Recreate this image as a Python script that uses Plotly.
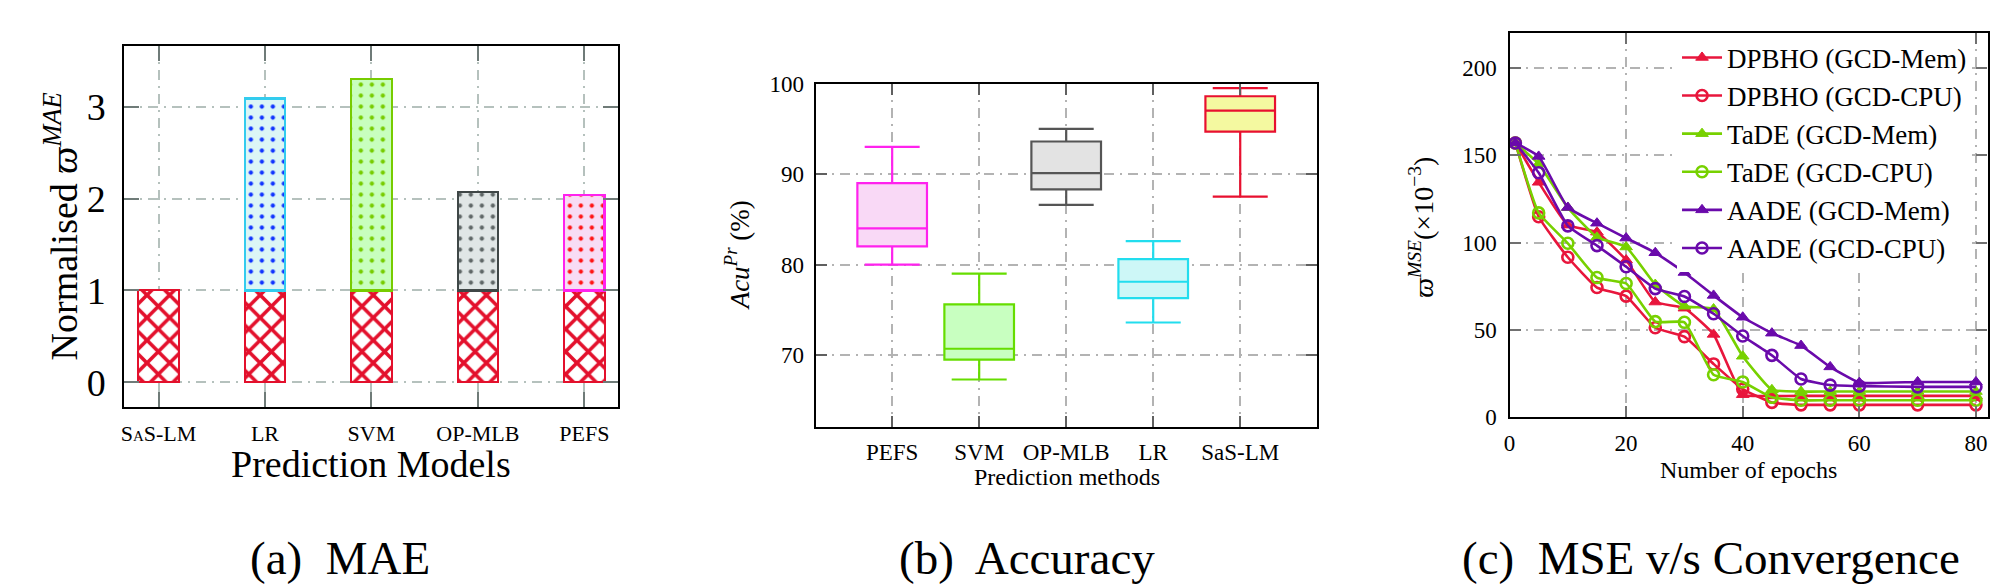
import plotly.graph_objects as go

W, H = 2011, 587
FONT = "Liberation Serif"

# ---------------- (a) MAE data ----------------
mae_models = ["SaS-LM", "LR", "SVM", "OP-MLB", "PEFS"]
mae_base = [1.0, 1.0, 1.0, 1.0, 1.0]
mae_total = [1.0, 3.09, 3.30, 2.07, 2.04]
mae_top_line = ["#e3102c", "#33ccee", "#77cc00", "#3f4747", "#ff22ee"]
mae_top_bg = ["#ffffff", "#dcf6f6", "#c8ffbe", "#e0e6e6", "#f8dcf5"]
mae_top_dot = ["#e3102c", "#1034ff", "#77cc00", "#5f6767", "#ff1414"]

# ---------------- (b) Accuracy data ----------------
acc_methods = ["PEFS", "SVM", "OP-MLB", "LR", "SaS-LM"]
acc_min = [80.0, 67.3, 86.6, 73.6, 87.5]
acc_q1 = [82.0, 69.5, 88.3, 76.3, 94.7]
acc_med = [84.0, 70.7, 90.1, 78.1, 97.0]
acc_q3 = [89.0, 75.6, 93.6, 80.6, 98.6]
acc_max = [93.0, 79.0, 95.0, 82.6, 99.5]
acc_line = ["#ff22ee", "#66dd00", "#555555", "#22ddee", "#e8102f"]
acc_fill = ["#f9d9f6", "#c8ffc0", "#e3e3e3", "#cdf7f7", "#f4f9a0"]

# ---------------- (c) MSE convergence data ----------------
epochs = [1, 5, 10, 15, 20, 25, 30, 35, 40, 45, 50, 55, 60, 70, 80]
dpbho_mem = [157, 134.5, 110, 106, 90, 66, 62.5, 47.5, 13, 12.3, 12.3, 12.3, 12.3, 12.3, 12.3]
dpbho_cpu = [157, 114.8, 91.6, 74.3, 69.4, 51.3, 46.2, 30.6, 16.2, 8.6, 7.2, 7.2, 7.2, 7.2, 7.2]
tade_mem = [157, 145, 120, 103, 97.5, 76, 63.6, 62, 35, 15.8, 14.8, 14.8, 14.8, 14.8, 14.8]
tade_cpu = [157, 117, 99.6, 80, 76.6, 54.8, 54.4, 24.4, 20.3, 11.5, 9.8, 9.8, 9.8, 9.8, 9.8]
aade_mem = [157, 149.3, 120.1, 111.1, 102.6, 94.2, 82.9, 69.8, 57.3, 48.2, 41.1, 28.9, 19.9, 20.3, 20.3]
aade_cpu = [157, 140, 109.6, 98.3, 86.2, 73.7, 69.2, 59.3, 46.6, 35.5, 22, 18.5, 17.9, 17.5, 17.5]
series = [
    ("DPBHO (GCD-Mem)", dpbho_mem, "#e8163c", "triangle-up"),
    ("DPBHO (GCD-CPU)", dpbho_cpu, "#e8163c", "circle-open"),
    ("TaDE (GCD-Mem)", tade_mem, "#77d100", "triangle-up"),
    ("TaDE (GCD-CPU)", tade_cpu, "#77d100", "circle-open"),
    ("AADE (GCD-Mem)", aade_mem, "#6a0aab", "triangle-up"),
    ("AADE (GCD-CPU)", aade_cpu, "#6a0aab", "circle-open"),
]

captions = ["(a)  MAE", "(b)  Accuracy", "(c)  MSE v/s Convergence"]


def px_x(v):
    return v / W


def px_y(v):
    return 1 - v / H


fig = go.Figure()

# (a) stacked bars: common base segment
fig.add_trace(go.Bar(
    x=mae_models, y=mae_base, width=0.38, xaxis="x", yaxis="y",
    marker=dict(color="#ffffff", line=dict(color="#e3102c", width=2),
                pattern=dict(shape="x", fgcolor="#e3102c", bgcolor="#ffffff", fgopacity=1,
                             size=16, solidity=0.4, fillmode="replace")),
    showlegend=False, hoverinfo="skip"))
# upper segments, one trace per model
for i, m in enumerate(mae_models):
    top = mae_total[i] - mae_base[i]
    if top <= 0:
        continue
    fig.add_trace(go.Bar(
        x=[m], y=[top], width=0.38, xaxis="x", yaxis="y",
        marker=dict(color=mae_top_bg[i], line=dict(color=mae_top_line[i], width=2.2),
                    pattern=dict(shape=".", fgcolor=mae_top_dot[i], bgcolor=mae_top_bg[i],
                                 fgopacity=1, size=11, solidity=0.12, fillmode="overlay")),
        showlegend=False, hoverinfo="skip"))

# (b) boxes
for i, m in enumerate(acc_methods):
    fig.add_trace(go.Box(
        x=[m], q1=[acc_q1[i]], median=[acc_med[i]], q3=[acc_q3[i]],
        lowerfence=[acc_min[i]], upperfence=[acc_max[i]],
        width=0.8, whiskerwidth=0.79, fillcolor=acc_fill[i],
        line=dict(color=acc_line[i], width=2.2), boxpoints=False,
        xaxis="x2", yaxis="y2", showlegend=False, hoverinfo="skip"))

# (c) lines
for name, vals, col, sym in series:
    if sym == "circle-open":
        mk = dict(symbol="circle-open", size=11, color=col, line=dict(width=2.6, color=col))
    else:
        mk = dict(symbol="triangle-up", size=11, color=col, line=dict(width=1, color=col))
    fig.add_trace(go.Scatter(
        x=epochs, y=vals, name=name, mode="lines+markers",
        line=dict(color=col, width=2.6, shape="spline", smoothing=0.4),
        marker=mk, xaxis="x3", yaxis="y3"))

grid_a = dict(showgrid=True, gridcolor="#b5c1bd", gridwidth=1.6, griddash="10px,6px,2px,6px")
grid_b = dict(showgrid=True, gridcolor="#b3b3b3", gridwidth=1.6, griddash="10px,6px,2px,6px")

common = dict(showline=True, linecolor="black", linewidth=2.2, mirror="allticks",
              ticks="inside", zeroline=False)


def tf(size, **kw):
    return dict(family=FONT, size=size, color="black", **kw)


fig.update_layout(
    width=W, height=H, margin=dict(l=0, r=0, t=0, b=0),
    paper_bgcolor="white", plot_bgcolor="white",
    barmode="stack", boxmode="overlay",
    font=dict(family=FONT, color="black"),
    xaxis=dict(domain=[px_x(110.7), px_x(606)], range=[-0.321, 4.318], anchor="y",
               type="category", categoryorder="array", categoryarray=mae_models,
               ticklen=15, tickwidth=2, tickcolor="#6f7b78", ticklabelstandoff=5,
               tickfont=tf(22, variant="small-caps"), **grid_a, **common),
    yaxis=dict(domain=[px_y(404.3), px_y(27.3)], range=[-0.27, 3.66], anchor="x",
               tickvals=[0, 1, 2, 3], ticklen=15, tickwidth=2, tickcolor="#6f7b78",
               ticklabelstandoff=9, tickfont=tf(38), **grid_a, **common),
    xaxis2=dict(domain=[px_x(804), px_x(1306.7)], range=[-0.88, 4.88], anchor="y2",
                type="category", categoryorder="array", categoryarray=acc_methods,
                ticklen=11, tickwidth=2, tickcolor="#606060", ticklabelstandoff=3,
                tickfont=tf(23), **grid_b, **common),
    yaxis2=dict(domain=[px_y(425.6), px_y(66.4)], range=[62, 100], anchor="x2",
                tickvals=[70, 80, 90, 100], ticklen=11, tickwidth=2, tickcolor="#606060",
                ticklabelstandoff=5, tickfont=tf(23), **grid_b, **common),
    xaxis3=dict(domain=[px_x(1500), px_x(1979.5)], range=[0, 82], anchor="y3",
                tickvals=[0, 20, 40, 60, 80], ticklen=11, tickwidth=2, tickcolor="#707070",
                ticklabelstandoff=4, tickfont=tf(23), **grid_b, **common),
    yaxis3=dict(domain=[px_y(415.1), px_y(13.4)], range=[0, 220], anchor="x3",
                tickvals=[0, 50, 100, 150, 200], ticklen=11, tickwidth=2, tickcolor="#707070",
                ticklabelstandoff=6, tickfont=tf(23), **grid_b, **common),
    legend=dict(x=px_x(1668), y=px_y(14), xanchor="left", yanchor="top",
                traceorder="normal", bgcolor="white", borderwidth=0, itemwidth=40,
                font=tf(27), tracegroupgap=0),
)

annos = [
    # axis titles
    dict(x=px_x(47), y=px_y(215.8), text="Normalised <i>ϖ</i><sup><i>MAE</i></sup>",
         textangle=-90, size=38),
    dict(x=px_x(358), y=px_y(464), text="Prediction Models", size=38),
    dict(x=px_x(725), y=px_y(246), text="<i>Acu</i><sup><i>Pr</i></sup> (%)",
         textangle=-90, size=27),
    dict(x=px_x(1055.9), y=px_y(477.5), text="Prediction methods", size=24),
    dict(x=px_x(1411.7), y=px_y(216.6), text="<i>ϖ</i><sup><i>MSE</i></sup>(×10<sup>−3</sup>)",
         textangle=-90, size=28),
    dict(x=px_x(1739.7), y=px_y(470), text="Number of epochs", size=24),
    # captions
    dict(x=px_x(326.5), y=px_y(561.7), text=captions[0], size=47),
    dict(x=px_x(1016), y=px_y(561.7), text=captions[1], size=47),
    dict(x=px_x(1701.7), y=px_y(561.7), text=captions[2], size=47),
]
for a in annos:
    s = a.pop("size")
    a.update(xref="paper", yref="paper", showarrow=False, xanchor="center", yanchor="middle",
             font=tf(s))
fig.update_layout(annotations=annos)

fig.write_html("out.html")
